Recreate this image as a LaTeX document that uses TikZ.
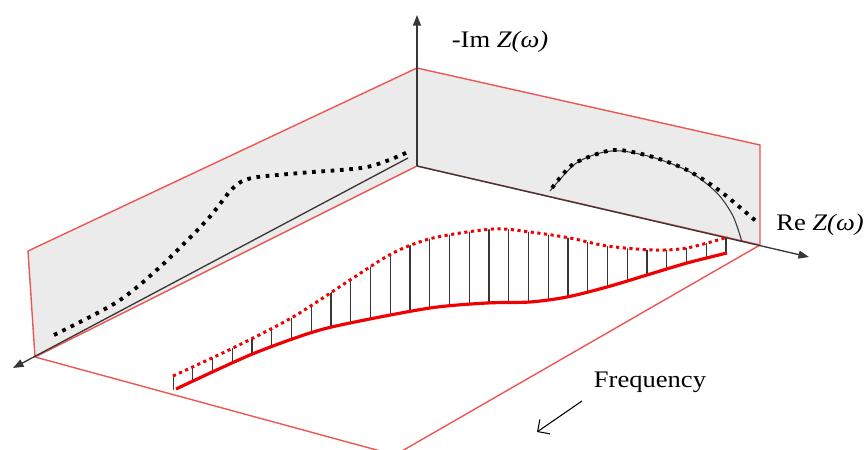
\documentclass[tikz,border=0pt]{standalone}
\usepackage{fontspec}
\setmainfont{Liberation Serif}
\usepackage{tikz}
\usetikzlibrary{calc,arrows.meta}

\definecolor{rahmen}{RGB}{238,85,85}
\definecolor{wand}{RGB}{235,235,235}
\definecolor{achse}{RGB}{55,55,55}
\definecolor{kurve}{RGB}{240,0,0}

\tikzset{
  wandrand/.style={draw=rahmen, line width=0.8pt},
  achsenpfeil/.style={draw=achse, line width=0.75pt, -{Triangle[length=6pt,width=4.5pt]}},
  projpunkte/.style={line width=2.2pt, dash pattern=on 2.1pt off 3.2pt},
  rotpunkte/.style={kurve, line width=1.7pt, dash pattern=on 1.8pt off 2pt},
  beschriftung/.style={inner sep=0pt, xscale=1.12, transform shape}
}

\begin{document}
\begin{tikzpicture}[x=0.02cm, y=-0.02cm, font=\fontsize{13.5}{16}\selectfont]
                \clip (0,0) rectangle (867,450);
                \coordinate(O)at(417,166);
                \coordinate(T)at(417,68);
                \coordinate(A)at(28,251);
                \coordinate(B)at(35,357);
                \coordinate(C)at(760,145);
                \coordinate(D)at(760,245);
                \coordinate(F)at(395,455);
                \coordinate(ImEnde)at(417,15);
                \coordinate(ReEnde)at(809,257);
                \coordinate(FrStart)at(408,158);
                \coordinate(FrEnde)at(13,368);

                % Waende und Boden
                \path[wandrand, fill=wand](O)--(T)--(A)--(B)--cycle;
                \path[wandrand, fill=wand](O)--(T)--(C)--(D)--cycle;
                \path[wandrand](B)--(F)--(D);

                % Projektionen
                \path[draw, projpunkte] plot[smooth] coordinates {(54,335) (117,302) (160,267) (207,220) (233,188) (252,178) (300,173) (367,167) (408,152)};
                \path[draw=achse, line width=0.6pt] plot[smooth] coordinates {(550,191) (575,164) (600,153) (622,151) (655,158) (690,172) (717,193) (733,216) (742,242)};
                \path[draw, projpunkte] plot[smooth] coordinates {(552,188) (572,165) (600,153) (620,150) (653,157) (687,170) (720,191) (757,222)};

                % Achsen
                \path[achsenpfeil](O)to(ImEnde);
                \path[achsenpfeil](O)to(ReEnde);
                \path[achsenpfeil](FrStart)to(FrEnde);

                % Stiele zwischen den Kurven
                \begin{scope}
                  \clip plot[smooth] coordinates {(173,376) (233,348) (293,317) (350,280) (393,253) (433,238) (493,229) (530,232) (570,238) (607,246) (653,250) (687,248) (728,237)} -- (728,450) -- (173,450) -- cycle;
                  \clip plot[smooth] coordinates {(173,390) (250,355) (310,333) (350,323) (430,308) (487,303) (530,302) (567,297) (607,287) (647,275) (687,263) (728,252)} -- (728,0) -- (173,0) -- cycle;
                  \foreach \x in {0,...,28}
                    \path[draw=achse, line width=0.8pt] (173+19.75*\x,150) -- (173+19.75*\x,420);
                \end{scope}

                % Kurven am Boden
                \path[draw, rotpunkte] plot[smooth] coordinates {(173,376) (233,348) (293,317) (350,280) (393,253) (433,238) (493,229) (530,232) (570,238) (607,246) (653,250) (687,248) (728,237)};
                \path[draw=kurve, line width=1.8pt] plot[smooth] coordinates {(176,389) (250,355) (310,333) (350,323) (430,308) (487,303) (530,302) (567,297) (607,287) (647,275) (687,263) (727,253)};

                % Beschriftung
                \node[beschriftung](imlabel)at(500,42){-Im \textit{Z(ω)}};
                \node[beschriftung](relabel)at(820,225){Re \textit{Z(ω)}};
                \node[beschriftung](freqlabel)at(650,382){Frequency};
                \coordinate(PfA)at(582,401);
                \coordinate(PfB)at(537,432);
                \path[draw, line width=0.6pt, -{Straight Barb[length=5pt]}](PfA)to(PfB);
            \end{tikzpicture}
\end{document}
